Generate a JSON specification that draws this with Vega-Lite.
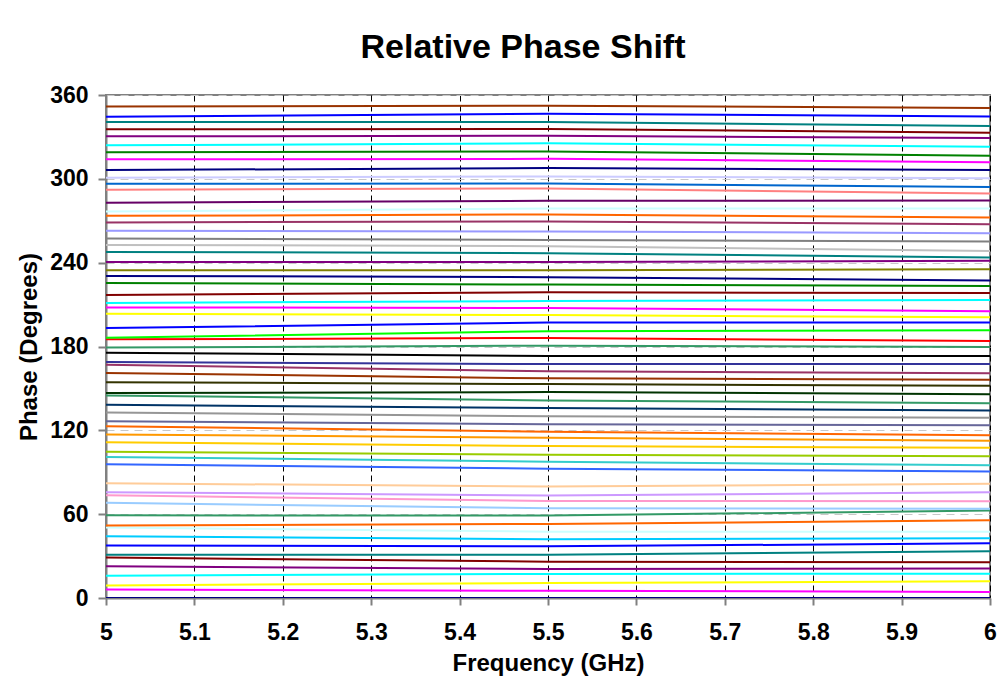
{
  "$schema": "https://vega.github.io/schema/vega-lite/v6.json",
  "width": 884,
  "height": 503,
  "autosize": "none",
  "padding": {"left": 106, "top": 95, "right": 15, "bottom": 87},
  "background": "white",
  "title": {
    "text": "Relative Phase Shift",
    "font": "Liberation Sans",
    "fontSize": 34,
    "fontWeight": "bold",
    "color": "black",
    "anchor": "middle",
    "baseline": "bottom",
    "dx": -25,
    "dy": 32,
    "offset": 17
  },
  "config": {
    "view": {"stroke": "#808080", "strokeWidth": 2},
    "axis": {
      "labelFont": "Liberation Sans",
      "labelFontSize": 23,
      "labelFontWeight": "bold",
      "labelColor": "black",
      "titleFont": "Liberation Sans",
      "titleFontSize": 24,
      "titleFontWeight": "bold",
      "titleColor": "black",
      "domainColor": "#808080",
      "domainWidth": 2,
      "tickColor": "#808080",
      "tickWidth": 2
    }
  },
  "data": {
    "values": [
      {"s":"S00","f":5,"p":0},{"s":"S00","f":5.5,"p":0},{"s":"S00","f":6,"p":0},
      {"s":"S01","f":5,"p":6},{"s":"S01","f":5.5,"p":5.2},{"s":"S01","f":6,"p":4.3},
      {"s":"S02","f":5,"p":9},{"s":"S02","f":5.5,"p":10.8},{"s":"S02","f":6,"p":11.9},
      {"s":"S03","f":5,"p":16},{"s":"S03","f":5.5,"p":17.2},{"s":"S03","f":6,"p":17.4},
      {"s":"S04","f":5,"p":22.7},{"s":"S04","f":5.5,"p":20.8},{"s":"S04","f":6,"p":21.2},
      {"s":"S05","f":5,"p":28.9},{"s":"S05","f":5.5,"p":26},{"s":"S05","f":6,"p":25.5},
      {"s":"S06","f":5,"p":31},{"s":"S06","f":5.5,"p":31},{"s":"S06","f":6,"p":33.4},
      {"s":"S07","f":5,"p":37.5},{"s":"S07","f":5.5,"p":37},{"s":"S07","f":6,"p":39.1},
      {"s":"S08","f":5,"p":44.2},{"s":"S08","f":5.5,"p":42},{"s":"S08","f":6,"p":42.7},
      {"s":"S09","f":5,"p":50.4},{"s":"S09","f":5.5,"p":47.5},{"s":"S09","f":6,"p":47.5},
      {"s":"S10","f":5,"p":51.8},{"s":"S10","f":5.5,"p":53},{"s":"S10","f":6,"p":55.6},
      {"s":"S11","f":5,"p":59.2},{"s":"S11","f":5.5,"p":59},{"s":"S11","f":6,"p":62.6},
      {"s":"S12","f":5,"p":68.1},{"s":"S12","f":5.5,"p":64.2},{"s":"S12","f":6,"p":63.8},
      {"s":"S13","f":5,"p":73.5},{"s":"S13","f":5.5,"p":69.5},{"s":"S13","f":6,"p":69.2},
      {"s":"S14","f":5,"p":75.7},{"s":"S14","f":5.5,"p":73.3},{"s":"S14","f":6,"p":75.7},
      {"s":"S15","f":5,"p":82.1},{"s":"S15","f":5.5,"p":79.8},{"s":"S15","f":6,"p":81.7},
      {"s":"S16","f":5,"p":95.8},{"s":"S16","f":5.5,"p":92.5},{"s":"S16","f":6,"p":90.5},
      {"s":"S17","f":5,"p":101},{"s":"S17","f":5.5,"p":97.5},{"s":"S17","f":6,"p":95},
      {"s":"S18","f":5,"p":104.6},{"s":"S18","f":5.5,"p":102.5},{"s":"S18","f":6,"p":101.5},
      {"s":"S19","f":5,"p":111.5},{"s":"S19","f":5.5,"p":108.7},{"s":"S19","f":6,"p":107.5},
      {"s":"S20","f":5,"p":117},{"s":"S20","f":5.5,"p":114.7},{"s":"S20","f":6,"p":112.5},
      {"s":"S21","f":5,"p":123},{"s":"S21","f":5.5,"p":119},{"s":"S21","f":6,"p":116.5},
      {"s":"S22","f":5,"p":126.5},{"s":"S22","f":5.5,"p":124.4},{"s":"S22","f":6,"p":123.7},
      {"s":"S23","f":5,"p":132.8},{"s":"S23","f":5.5,"p":130},{"s":"S23","f":6,"p":129},
      {"s":"S24","f":5,"p":138.3},{"s":"S24","f":5.5,"p":135.9},{"s":"S24","f":6,"p":134.2},
      {"s":"S25","f":5,"p":145},{"s":"S25","f":5.5,"p":141.4},{"s":"S25","f":6,"p":139.3},
      {"s":"S26","f":5,"p":146.7},{"s":"S26","f":5.5,"p":147.4},{"s":"S26","f":6,"p":145.9},
      {"s":"S27","f":5,"p":154.5},{"s":"S27","f":5.5,"p":153.1},{"s":"S27","f":6,"p":151.9},
      {"s":"S28","f":5,"p":161},{"s":"S28","f":5.5,"p":157.2},{"s":"S28","f":6,"p":156.2},
      {"s":"S29","f":5,"p":167},{"s":"S29","f":5.5,"p":162.2},{"s":"S29","f":6,"p":160.8},
      {"s":"S30","f":5,"p":168.9},{"s":"S30","f":5.5,"p":167.4},{"s":"S30","f":6,"p":167.4},
      {"s":"S31","f":5,"p":175.6},{"s":"S31","f":5.5,"p":173.2},{"s":"S31","f":6,"p":173.2},
      {"s":"S32","f":5,"p":179.2},{"s":"S32","f":5.5,"p":180.6},{"s":"S32","f":6,"p":179.6},
      {"s":"S33","f":5,"p":185.1},{"s":"S33","f":5.5,"p":186.1},{"s":"S33","f":6,"p":183.9},
      {"s":"S34","f":5,"p":186.3},{"s":"S34","f":5.5,"p":190.9},{"s":"S34","f":6,"p":191.6},
      {"s":"S35","f":5,"p":193.2},{"s":"S35","f":5.5,"p":197.1},{"s":"S35","f":6,"p":197.1},
      {"s":"S36","f":5,"p":203.5},{"s":"S36","f":5.5,"p":202.5},{"s":"S36","f":6,"p":200.9},
      {"s":"S37","f":5,"p":208},{"s":"S37","f":5.5,"p":207.6},{"s":"S37","f":6,"p":205.2},
      {"s":"S38","f":5,"p":211.1},{"s":"S38","f":5.5,"p":212.6},{"s":"S38","f":6,"p":213.3},
      {"s":"S39","f":5,"p":216.9},{"s":"S39","f":5.5,"p":218.8},{"s":"S39","f":6,"p":218.3},
      {"s":"S40","f":5,"p":225.5},{"s":"S40","f":5.5,"p":224.3},{"s":"S40","f":6,"p":223.3},
      {"s":"S41","f":5,"p":230.5},{"s":"S41","f":5.5,"p":229.6},{"s":"S41","f":6,"p":227.2},
      {"s":"S42","f":5,"p":234.6},{"s":"S42","f":5.5,"p":234.6},{"s":"S42","f":6,"p":235.3},
      {"s":"S43","f":5,"p":240.5},{"s":"S43","f":5.5,"p":240.5},{"s":"S43","f":6,"p":241.3},
      {"s":"S44","f":5,"p":247.7},{"s":"S44","f":5.5,"p":246.8},{"s":"S44","f":6,"p":243.7},
      {"s":"S45","f":5,"p":252.7},{"s":"S45","f":5.5,"p":251.8},{"s":"S45","f":6,"p":248.4},
      {"s":"S46","f":5,"p":257.3},{"s":"S46","f":5.5,"p":256.3},{"s":"S46","f":6,"p":255.1},
      {"s":"S47","f":5,"p":262.8},{"s":"S47","f":5.5,"p":262.3},{"s":"S47","f":6,"p":261.1},
      {"s":"S48","f":5,"p":268.8},{"s":"S48","f":5.5,"p":269.5},{"s":"S48","f":6,"p":267.5},
      {"s":"S49","f":5,"p":273.5},{"s":"S49","f":5.5,"p":274.5},{"s":"S49","f":6,"p":272.3},
      {"s":"S50","f":5,"p":276.7},{"s":"S50","f":5.5,"p":278.8},{"s":"S50","f":6,"p":278.8},
      {"s":"S51","f":5,"p":282.9},{"s":"S51","f":5.5,"p":284.3},{"s":"S51","f":6,"p":284.5},
      {"s":"S52","f":5,"p":292.2},{"s":"S52","f":5.5,"p":293.1},{"s":"S52","f":6,"p":289.5},
      {"s":"S53","f":5,"p":296.5},{"s":"S53","f":5.5,"p":296.7},{"s":"S53","f":6,"p":294.1},
      {"s":"S54","f":5,"p":300.8},{"s":"S54","f":5.5,"p":301.7},{"s":"S54","f":6,"p":300.5},
      {"s":"S55","f":5,"p":306.3},{"s":"S55","f":5.5,"p":307.7},{"s":"S55","f":6,"p":306.3},
      {"s":"S56","f":5,"p":314},{"s":"S56","f":5.5,"p":314.3},{"s":"S56","f":6,"p":311.8},
      {"s":"S57","f":5,"p":319},{"s":"S57","f":5.5,"p":319.6},{"s":"S57","f":6,"p":316.5},
      {"s":"S58","f":5,"p":324},{"s":"S58","f":5.5,"p":325.4},{"s":"S58","f":6,"p":323},
      {"s":"S59","f":5,"p":330.4},{"s":"S59","f":5.5,"p":330.8},{"s":"S59","f":6,"p":329.2},
      {"s":"S60","f":5,"p":335.4},{"s":"S60","f":5.5,"p":335.6},{"s":"S60","f":6,"p":333},
      {"s":"S61","f":5,"p":340.7},{"s":"S61","f":5.5,"p":340.7},{"s":"S61","f":6,"p":337.8},
      {"s":"S62","f":5,"p":344.5},{"s":"S62","f":5.5,"p":346.6},{"s":"S62","f":6,"p":344.7},
      {"s":"S63","f":5,"p":351.7},{"s":"S63","f":5.5,"p":352.3},{"s":"S63","f":6,"p":350.7}
    ]
  },
  "mark": {"type": "line", "strokeWidth": 2, "clip": true},
  "encoding": {
    "x": {
      "field": "f",
      "type": "quantitative",
      "scale": {"domain": [5, 6], "nice": false, "zero": false},
      "axis": {
        "title": "Frequency (GHz)",
        "values": [5, 5.1, 5.2, 5.3, 5.4, 5.5, 5.6, 5.7, 5.8, 5.9, 6],
        "format": ".1~f",
        "grid": true,
        "gridColor": "black",
        "gridDash": [6, 4],
        "gridWidth": 1,
        "tickSize": 7,
        "labelPadding": 16,
        "titlePadding": 7,
        "labelFlush": false
      }
    },
    "y": {
      "field": "p",
      "type": "quantitative",
      "scale": {"domain": [0, 360], "nice": false},
      "axis": {
        "title": "Phase (Degrees)",
        "values": [0, 60, 120, 180, 240, 300, 360],
        "grid": true,
        "gridColor": "#C8C8C8",
        "gridDash": [8, 6],
        "gridWidth": 1,
        "tickSize": 8,
        "labelPadding": 10,
        "titlePadding": 8
      }
    },
    "color": {
      "field": "s",
      "type": "nominal",
      "legend": null,
      "scale": {
        "domain": ["S00","S01","S02","S03","S04","S05","S06","S07","S08","S09","S10","S11","S12","S13","S14","S15","S16","S17","S18","S19","S20","S21","S22","S23","S24","S25","S26","S27","S28","S29","S30","S31","S32","S33","S34","S35","S36","S37","S38","S39","S40","S41","S42","S43","S44","S45","S46","S47","S48","S49","S50","S51","S52","S53","S54","S55","S56","S57","S58","S59","S60","S61","S62","S63"],
        "range": ["#000080","#FF00FF","#FFFF00","#00FFFF","#800080","#800000","#008080","#0000FF","#00CCFF","#CCFFFF","#FF6600","#339966","#99CCFF","#FF99CC","#CC99FF","#FFCC99","#3366FF","#33CCCC","#99CC00","#FFCC00","#FF9900","#FF6600","#666699","#969696","#003366","#339966","#003300","#333300","#993300","#993366","#333399","#000000","#339966","#FF0000","#00FF00","#0000FF","#FFFF00","#FF00FF","#00FFFF","#800000","#008000","#000080","#808000","#800080","#008080","#C0C0C0","#808080","#9999FF","#993366","#FF6600","#CCFFFF","#660066","#FF8080","#0066CC","#CCCCFF","#000080","#FF00FF","#008000","#00FFFF","#800080","#800000","#008080","#0000FF","#993300"]
      }
    }
  }
}
